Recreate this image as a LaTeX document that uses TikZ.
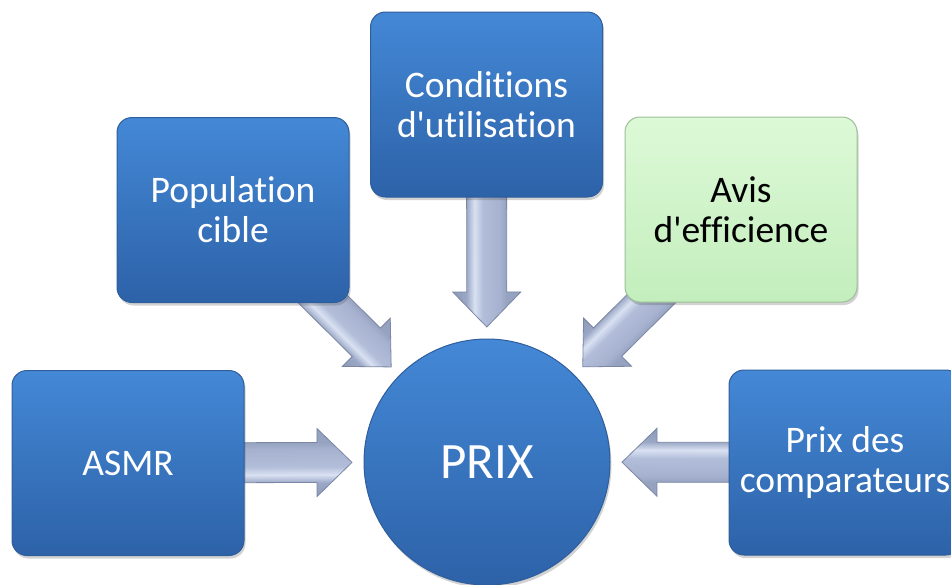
\documentclass[tikz,border=0pt]{standalone}
\usepackage{fontspec}
\newfontfamily\carl{Carlito}[Ligatures=CommonOff]
\usetikzlibrary{calc,shadows,backgrounds}
\definecolor{boxtop}{HTML}{4488D6}
\definecolor{boxbot}{HTML}{2D62A8}
\definecolor{boxedge}{HTML}{2F5E9C}
\definecolor{greentop}{HTML}{DDF9D7}
\definecolor{greenbot}{HTML}{C3EEBD}
\definecolor{greenedge}{HTML}{9DBE98}
\definecolor{arA}{HTML}{8C99B8}
\definecolor{arB}{HTML}{9AA7C5}
\definecolor{arC}{HTML}{D9E1F2}
\definecolor{arD}{HTML}{B2BED9}
\definecolor{arE}{HTML}{A5B1CE}
\definecolor{arF}{HTML}{95A2C0}
\definecolor{arrowedge}{HTML}{7A86A3}
\pgfdeclareverticalshading{arrowsh}{100bp}{color(0bp)=(arA); color(25bp)=(arA); color(35bp)=(arB); color(41bp)=(arC); color(47bp)=(arD); color(60bp)=(arE); color(65bp)=(arF); color(75bp)=(arF); color(100bp)=(arF)}
\newcommand\blockarrow[2]{%
  \path let \p1=(#1), \p2=(#2), \n1={atan2(\y2-\y1,\x2-\x1)}, \n2={veclen(\x2-\x1,\y2-\y1)} in
    \pgfextra{\xdef\baang{\n1}\xdef\balen{\n2}\xdef\bax{\x1}\xdef\bay{\y1}};
  \begin{scope}[transform canvas={shift={(\bax,\bay)}, rotate=\baang}]
    \shade[shading=arrowsh, draw=arrowedge, line width=0.8pt, line join=miter]
      (0pt,-20pt) -- ({\balen-35pt},-20pt) -- ({\balen-35pt},-34pt)
      -- (\balen,0pt) -- ({\balen-35pt},34pt) -- ({\balen-35pt},20pt)
      -- (0pt,20pt) -- cycle;
  \end{scope}}
\tikzset{
  box/.style={rectangle, rounded corners=15pt, minimum width=232pt, minimum height=185pt,
    inner sep=0pt, draw=boxedge, line width=1pt, top color=boxtop, bottom color=boxbot,
    text=white, align=center, font=\carl\fontsize{37.5}{40}\selectfont,
    drop shadow={shadow xshift=1.5pt, shadow yshift=-3pt, opacity=0.25, fill=black!70}},
  greenbox/.style={box, draw=greenedge, top color=greentop, bottom color=greenbot, text=black},
  hub/.style={circle, minimum size=246pt, inner sep=0pt, draw=boxedge, line width=1pt,
    top color=boxtop, bottom color=boxbot, text=white, font=\carl\fontsize{51}{56}\selectfont,
    drop shadow={shadow xshift=1.5pt, shadow yshift=-3pt, opacity=0.25, fill=black!70}}
}
\begin{document}
\begin{tikzpicture}[x=1pt, y=-1pt]
  \useasboundingbox (0,0) rectangle (951,584);
  \clip (0,0) rectangle (951,584);
  \node[box] (cond) at (486.5,104.5) {Conditions\\d'utilisation};
  \node[box] (pop) at (233,210) {Population\\cible};
  \node[greenbox] (avis) at (741,209.5) {Avis\\d'efficience};
  \node[box] (asmr) at (128,463) {ASMR};
  \node[box] (comp) at (845,462.5) {Prix des\\comparateurs};
  \node[hub] (prix) at (487,462) {PRIX};
  \begin{scope}[on background layer]
    \coordinate (tcond) at ($(prix)!135pt!(cond)$);
    \coordinate (tpop) at ($(prix)!135pt!(pop)$);
    \coordinate (tavis) at ($(prix)!135pt!(avis)$);
    \coordinate (tasmr) at ($(prix)!135pt!(asmr)$);
    \coordinate (tcomp) at ($(prix)!135pt!(comp)$);
    \blockarrow{cond}{tcond}
    \blockarrow{pop}{tpop}
    \blockarrow{avis}{tavis}
    \blockarrow{asmr}{tasmr}
    \blockarrow{comp}{tcomp}
  \end{scope}
\end{tikzpicture}
\end{document}
